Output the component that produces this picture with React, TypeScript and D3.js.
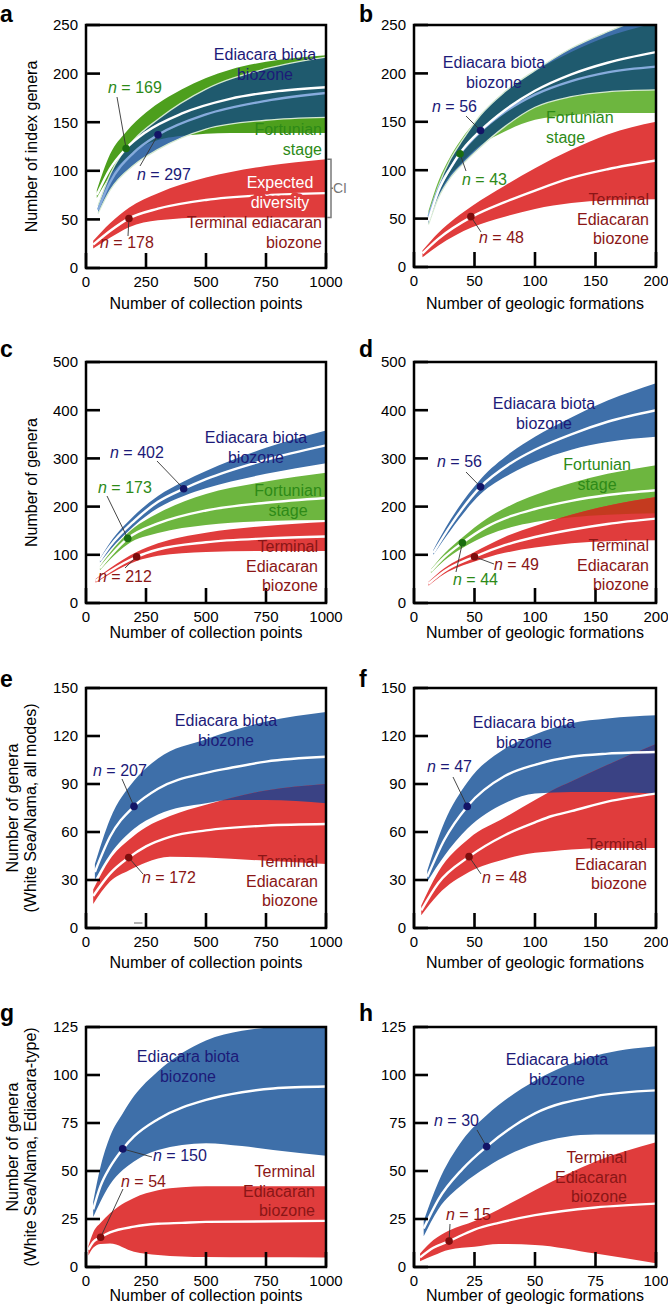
import React from "react";
import * as d3 from "d3";

// ---------------- tick values ----------------
const collectionTicks = [0, 250, 500, 750, 1000];
const formationTicks = [0, 50, 100, 150, 200];
const formationTicksH = [0, 25, 50, 75, 100];
const yTicksAB = [0, 50, 100, 150, 200, 250];
const yTicksCD = [0, 100, 200, 300, 400, 500];
const yTicksEF = [0, 30, 60, 90, 120, 150];
const yTicksGH = [0, 25, 50, 75, 100, 125];

// ---------------- panel a (index genera, collection points) ----------------
const aGreenX = [45, 100, 167, 250, 400, 600, 800, 1000];
const aGreenMid = [75, 102, 123, 140, 159, 174, 182, 186];
const aGreenHi = [80, 117, 140, 160, 184, 204, 214, 219];
const aGreenLo = [72, 95, 113, 127, 136, 139, 139, 139];
const aGreenDot = [167, 123];
const aBlueX = [50, 100, 200, 300, 500, 750, 1000];
const aBlueMid = [60, 88, 119, 137, 158, 172, 180];
const aBlueHi = [64, 96, 132, 153, 184, 205, 217];
const aBlueLo = [56, 80, 106, 122, 143, 152, 155];
const aBlueDot = [300, 137];
const aRedX = [30, 100, 179, 300, 500, 750, 1000];
const aRedMid = [24, 38, 51, 61, 70, 75, 77];
const aRedHi = [28, 46, 62, 77, 93, 105, 112];
const aRedLo = [20, 31, 42, 49, 52, 52, 52];
const aRedDot = [179, 51];
const aN = [169, 297, 178];

// ---------------- panel b (index genera, formations) ----------------
const bBlueX = [12, 20, 30, 40, 55, 75, 100, 130, 160, 200];
const bBlueMid = [48, 78, 102, 121, 141, 162, 182, 199, 211, 222];
const bBlueHi = [52, 83, 111, 131, 157, 181, 203, 226, 243, 262];
const bBlueLo = [44, 71, 92, 106, 124, 145, 165, 176, 181, 183];
const bBlueDot = [55, 141];
const bGreenX = [12, 20, 30, 38, 55, 75, 100, 130, 160, 200];
const bGreenMid = [52, 80, 102, 117, 140, 160, 178, 192, 201, 207];
const bGreenHi = [58, 88, 114, 130, 156, 180, 202, 222, 238, 252];
const bGreenLo = [50, 74, 95, 106, 126, 140, 152, 157, 159, 159];
const bGreenDot = [38, 117];
const bRedX = [7, 20, 48, 75, 100, 130, 160, 200];
const bRedMid = [14, 29, 52, 67, 79, 92, 101, 110];
const bRedHi = [17, 35, 63, 84, 102, 121, 137, 150];
const bRedLo = [10, 22, 41, 52, 60, 66, 69, 70];
const bRedDot = [47, 52];
const bN = [56, 43, 48];

// ---------------- panel c (genera, collection points) ----------------
const cBlueX = [58, 100, 200, 300, 407, 500, 750, 1000];
const cBlueMid = [88, 118, 170, 210, 237, 257, 297, 327];
const cBlueHi = [92, 125, 181, 222, 252, 274, 322, 358];
const cBlueLo = [84, 110, 160, 197, 222, 238, 268, 290];
const cBlueDot = [407, 237];
const cGreenX = [58, 100, 174, 300, 500, 750, 1000];
const cGreenMid = [72, 97, 134, 165, 192, 208, 218];
const cGreenHi = [76, 104, 145, 186, 226, 252, 270];
const cGreenLo = [68, 90, 122, 145, 162, 170, 172];
const cGreenDot = [174, 134];
const cRedX = [40, 100, 211, 300, 500, 750, 1000];
const cRedMid = [46, 66, 96, 111, 126, 134, 138];
const cRedHi = [50, 72, 106, 124, 146, 160, 168];
const cRedLo = [42, 60, 87, 98, 106, 108, 108];
const cRedDot = [211, 96];
const cN = [402, 173, 212];

// ---------------- panel d (genera, formations) ----------------
const dBlueX = [16, 30, 55, 80, 100, 130, 160, 200];
const dBlueMid = [104, 160, 241, 290, 318, 350, 376, 400];
const dBlueHi = [110, 172, 257, 312, 345, 385, 420, 456];
const dBlueLo = [100, 150, 226, 268, 292, 318, 334, 345];
const dBlueDot = [55, 241];
const dGreenX = [14, 25, 40, 60, 80, 100, 130, 160, 200];
const dGreenMid = [66, 95, 125, 158, 180, 195, 212, 224, 234];
const dGreenHi = [70, 102, 136, 175, 203, 224, 249, 268, 286];
const dGreenLo = [62, 88, 114, 140, 157, 168, 178, 183, 186];
const dGreenDot = [40, 125];
const dRedX = [12, 25, 50, 75, 100, 130, 160, 200];
const dRedMid = [40, 66, 96, 120, 137, 152, 164, 175];
const dRedHi = [44, 72, 106, 137, 160, 183, 202, 220];
const dRedLo = [36, 60, 86, 104, 115, 124, 128, 130];
const dRedDot = [50, 96];
const dN = [56, 44, 49];

// ---------------- panel e (White Sea/Nama all modes, collection points) ----------------
const eBlueX = [37, 100, 200, 300, 500, 600, 750, 1000];
const eBlueMid = [35, 57, 76, 87, 97, 100, 104, 107];
const eBlueHi = [40, 68, 92, 106, 118, 123, 129, 135];
const eBlueLo = [30, 46, 62, 71, 78, 80, 80, 78];
const eBlueDot = [200, 76];
const eRedX = [30, 100, 178, 250, 350, 500, 750, 1000];
const eRedMid = [20, 34, 44, 51, 57, 61, 64, 65];
const eRedHi = [24, 43, 55, 63, 70, 77, 86, 90];
const eRedLo = [15, 29, 36, 41, 44.5, 44, 42, 40];
const eRedDot = [178, 44];
const eN = [207, 172];

// ---------------- panel f (White Sea/Nama all modes, formations) ----------------
const fBlueX = [11, 25, 44, 75, 100, 130, 160, 200];
const fBlueMid = [32, 55, 76, 95, 102, 107, 109, 110];
const fBlueHi = [36, 66, 91, 112, 121, 128, 131, 133];
const fBlueLo = [29, 45, 62, 78, 84, 85, 85, 84];
const fBlueDot = [44, 76];
const fRedX = [6, 20, 45.5, 75, 100, 114, 130, 160, 200];
const fRedMid = [11, 28, 44.6, 58, 66, 70, 73, 79, 84];
const fRedHi = [14, 35, 56, 69, 80, 86, 91.5, 102, 115];
const fRedLo = [8, 21, 35, 43, 47, 48, 49, 50, 50];
const fRedDot = [45.5, 44.6];
const fN = [47, 48];

// ---------------- panel g (White Sea/Nama Ediacara-type, collection points) ----------------
const gBlueX = [30, 60, 100, 153, 200, 300, 500, 650, 780, 1000];
const gBlueMid = [30, 42, 52, 61.5, 68, 77, 87, 91, 93, 94];
const gBlueHi = [34, 52, 68, 80, 89, 102, 118, 123, 125, 128];
const gBlueLo = [26, 34, 43, 50.5, 55, 61, 64.5, 63, 61, 58];
const gBlueDot = [153, 61.5];
const gRedX = [10, 30, 61, 100, 200, 300, 400, 500, 1000];
const gRedMid = [9, 13, 15.5, 18, 21, 22.5, 23, 23.5, 24];
const gRedHi = [11, 18, 23, 28, 36, 40, 41.5, 42, 42];
const gRedLo = [6, 10, 12, 12.3, 8, 6.3, 5.5, 5.2, 5];
const gRedDot = [61, 15.5];
const gN = [150, 54];

// ---------------- panel h (White Sea/Nama Ediacara-type, formations) ----------------
const hBlueX = [4, 10, 20, 30, 50, 75, 100];
const hBlueMid = [20, 35, 51, 62.7, 80, 89, 92];
const hBlueHi = [24, 44, 66, 79, 97, 110, 115];
const hBlueLo = [16, 30, 43, 52, 64, 69, 69];
const hBlueDot = [30, 62.7];
const hRedX = [2.5, 8, 14.5, 25, 35, 50, 75, 100];
const hRedMid = [5, 10, 13.5, 19.5, 23, 27, 31, 33];
const hRedHi = [7, 14, 19, 24, 30, 40, 55, 65];
const hRedLo = [3, 6, 9, 10.5, 12, 11.5, 7, 2];
const hRedDot = [14.5, 13.5];
const hN = [30, 15];

// ---------------- styles ----------------
const FONT = "'Liberation Sans', Arial, Helvetica, sans-serif";
const FILL = {
  blue: "#3e6fa9",
  greenA: "#4d9f1d",
  green: "#6db63f",
  red: "#e03c3c",
  teal: "#1f5a6e",
  navy: "#3a4284",
  redGreen: "#c43a1f",
};
const TXT = { navy: "#1c1a78", green: "#2d8a17", red: "#8a1616" };
const DOT = { navy: "#131466", green: "#1b6d10", red: "#7d0d0d" };

type Series = {
  x: number[];
  lo: number[];
  mid: number[];
  hi: number[];
  fill: string;
  mean: string;
  edge?: string;
  dot: number[];
  dotColor: string;
};
type Label = { lines: string[]; dx: number; dy: number; anchor: string; color: string; halo?: string };
type NLabel = { n: number; dx: number; dy: number; lx: number; ly: number; s: number; color: string };
type Panel = {
  id: string;
  left: number;
  top: number;
  width: number;
  height: number;
  letterX: number;
  letterY: number;
  xMax: number;
  yMax: number;
  xTicks: number[];
  yTicks: number[];
  xTitle: string;
  xTitleY: number;
  yTitle: string[];
  series: Series[];
  overlaps: [number, number, string][];
  labels: Label[];
  nLabels: NLabel[];
};

const S = (
  x: number[], lo: number[], mid: number[], hi: number[], fill: string, dot: number[], dotColor: string,
  mean = "#ffffff", edge?: string
): Series => ({ x, lo, mid, hi, fill, mean, edge, dot, dotColor });

const L = (lines: string[], dx: number, dy: number, anchor: string, color: string, halo?: string): Label =>
  ({ lines, dx, dy, anchor, color, halo });

const N = (n: number, dx: number, dy: number, lx: number, ly: number, s: number, color: string): NLabel =>
  ({ n, dx, dy, lx, ly, s, color });

const EB = ["Ediacara biota", "biozone"];
const TE = ["Terminal", "Ediacaran", "biozone"];
const FS = ["Fortunian", "stage"];

const panels: Panel[] = [
  {
    id: "a", left: 86, top: 25, width: 240, height: 243, letterX: 0, letterY: 22,
    xMax: 1000, yMax: 250, xTicks: collectionTicks, yTicks: yTicksAB,
    xTitle: "Number of collection points", xTitleY: 309, yTitle: ["Number of index genera"],
    series: [
      S(aGreenX, aGreenLo, aGreenMid, aGreenHi, FILL.greenA, aGreenDot, DOT.green),
      S(aBlueX, aBlueLo, aBlueMid, aBlueHi, FILL.blue, aBlueDot, DOT.navy, "#86abdc", "#d6ead0"),
      S(aRedX, aRedLo, aRedMid, aRedHi, FILL.red, aRedDot, DOT.red),
    ],
    overlaps: [[0, 1, FILL.teal]],
    labels: [
      L(EB, 179, 35, "middle", TXT.navy),
      L(FS, 236, 110, "end", TXT.green),
      L(["Expected", "diversity"], 194, 163, "middle", "#ffffff", FILL.red),
      L(["Terminal ediacaran", "biozone"], 236, 203, "end", TXT.red),
    ],
    nLabels: [
      N(aN[0], 22, 68, 31, 72, 0, TXT.green),
      N(aN[1], 51, 155, 54, 141, 1, TXT.navy),
      N(aN[2], 14, 223, 42, 211, 2, TXT.red),
    ],
  },
  {
    id: "b", left: 414, top: 25, width: 242, height: 242, letterX: 359, letterY: 22,
    xMax: 200, yMax: 250, xTicks: formationTicks, yTicks: yTicksAB,
    xTitle: "Number of geologic formations", xTitleY: 309, yTitle: [],
    series: [
      S(bGreenX, bGreenLo, bGreenMid, bGreenHi, FILL.green, bGreenDot, DOT.green, "#86abdc"),
      S(bBlueX, bBlueLo, bBlueMid, bBlueHi, FILL.blue, bBlueDot, DOT.navy, "#ffffff", "#d6ead0"),
      S(bRedX, bRedLo, bRedMid, bRedHi, FILL.red, bRedDot, DOT.red),
    ],
    overlaps: [[0, 1, FILL.teal]],
    labels: [
      L(EB, 80, 43, "middle", TXT.navy),
      L(FS, 132, 98, "start", TXT.green),
      L(TE, 235, 180, "end", TXT.red),
    ],
    nLabels: [
      N(bN[0], 18, 87, 52, 91, 1, TXT.navy),
      N(bN[1], 48, 160, 52, 146, 0, TXT.green),
      N(bN[2], 65, 218, 67, 207, 2, TXT.red),
    ],
  },
  {
    id: "c", left: 86, top: 362, width: 240, height: 241, letterX: 0, letterY: 357,
    xMax: 1000, yMax: 500, xTicks: collectionTicks, yTicks: yTicksCD,
    xTitle: "Number of collection points", xTitleY: 638, yTitle: ["Number of genera"],
    series: [
      S(cBlueX, cBlueLo, cBlueMid, cBlueHi, FILL.blue, cBlueDot, DOT.navy),
      S(cGreenX, cGreenLo, cGreenMid, cGreenHi, FILL.green, cGreenDot, DOT.green),
      S(cRedX, cRedLo, cRedMid, cRedHi, FILL.red, cRedDot, DOT.red),
    ],
    overlaps: [],
    labels: [
      L(EB, 170, 81, "middle", TXT.navy),
      L(FS, 202, 134, "middle", TXT.green),
      L(TE, 232, 190, "end", TXT.red),
    ],
    nLabels: [
      N(cN[0], 24, 96, 71, 99, 0, TXT.navy),
      N(cN[1], 12, 131, 21, 134, 1, TXT.green),
      N(cN[2], 12, 220, 39, 206, 2, TXT.red),
    ],
  },
  {
    id: "d", left: 414, top: 362, width: 242, height: 241, letterX: 359, letterY: 357,
    xMax: 200, yMax: 500, xTicks: formationTicks, yTicks: yTicksCD,
    xTitle: "Number of geologic formations", xTitleY: 638, yTitle: [],
    series: [
      S(dBlueX, dBlueLo, dBlueMid, dBlueHi, FILL.blue, dBlueDot, DOT.navy),
      S(dGreenX, dGreenLo, dGreenMid, dGreenHi, FILL.green, dGreenDot, DOT.green),
      S(dRedX, dRedLo, dRedMid, dRedHi, FILL.red, dRedDot, DOT.red),
    ],
    overlaps: [[1, 2, FILL.redGreen]],
    labels: [
      L(EB, 130, 47, "middle", TXT.navy),
      L(FS, 183, 108, "middle", TXT.green),
      L(TE, 235, 189, "end", TXT.red),
    ],
    nLabels: [
      N(dN[0], 23, 105, 52, 110, 0, TXT.navy),
      N(dN[1], 39, 223, 42, 210, 1, TXT.green),
      N(dN[2], 80, 208, 80, 202, 2, TXT.red),
    ],
  },
  {
    id: "e", left: 86, top: 688, width: 240, height: 240, letterX: 0, letterY: 687,
    xMax: 1000, yMax: 150, xTicks: collectionTicks, yTicks: yTicksEF,
    xTitle: "Number of collection points", xTitleY: 968,
    yTitle: ["Number of genera", "(White Sea/Nama, all modes)"],
    series: [
      S(eBlueX, eBlueLo, eBlueMid, eBlueHi, FILL.blue, eBlueDot, DOT.navy),
      S(eRedX, eRedLo, eRedMid, eRedHi, FILL.red, eRedDot, DOT.red),
    ],
    overlaps: [[0, 1, FILL.navy]],
    labels: [
      L(EB, 140, 38, "middle", TXT.navy),
      L(TE, 232, 179, "end", TXT.red),
    ],
    nLabels: [
      N(eN[0], 7, 88, 36, 91, 0, TXT.navy),
      N(eN[1], 56, 195, 57, 186, 1, TXT.red),
    ],
  },
  {
    id: "f", left: 414, top: 688, width: 242, height: 240, letterX: 359, letterY: 687,
    xMax: 200, yMax: 150, xTicks: formationTicks, yTicks: yTicksEF,
    xTitle: "Number of geologic formations", xTitleY: 968, yTitle: [],
    series: [
      S(fBlueX, fBlueLo, fBlueMid, fBlueHi, FILL.blue, fBlueDot, DOT.navy),
      S(fRedX, fRedLo, fRedMid, fRedHi, FILL.red, fRedDot, DOT.red),
    ],
    overlaps: [[0, 1, FILL.navy]],
    labels: [
      L(EB, 110, 40, "middle", TXT.navy),
      L(TE, 233, 162, "end", TXT.red),
    ],
    nLabels: [
      N(fN[0], 13, 84, 39, 89, 0, TXT.navy),
      N(fN[1], 68, 195, 67, 186, 1, TXT.red),
    ],
  },
  {
    id: "g", left: 86, top: 1027, width: 240, height: 240, letterX: 0, letterY: 1021,
    xMax: 1000, yMax: 125, xTicks: collectionTicks, yTicks: yTicksGH,
    xTitle: "Number of collection points", xTitleY: 1301,
    yTitle: ["Number of genera", "(White Sea/Nama, Ediacara-type)"],
    series: [
      S(gBlueX, gBlueLo, gBlueMid, gBlueHi, FILL.blue, gBlueDot, DOT.navy),
      S(gRedX, gRedLo, gRedMid, gRedHi, FILL.red, gRedDot, DOT.red),
    ],
    overlaps: [],
    labels: [
      L(EB, 102, 35, "middle", TXT.navy),
      L(TE, 229, 150, "end", TXT.red),
    ],
    nLabels: [
      N(gN[0], 67, 134, 66, 130, 0, TXT.navy),
      N(gN[1], 35, 160, 37, 162, 1, TXT.red),
    ],
  },
  {
    id: "h", left: 414, top: 1027, width: 242, height: 240, letterX: 359, letterY: 1021,
    xMax: 100, yMax: 125, xTicks: formationTicksH, yTicks: yTicksGH,
    xTitle: "Number of geologic formations", xTitleY: 1301, yTitle: [],
    series: [
      S(hBlueX, hBlueLo, hBlueMid, hBlueHi, FILL.blue, hBlueDot, DOT.navy),
      S(hRedX, hRedLo, hRedMid, hRedHi, FILL.red, hRedDot, DOT.red),
    ],
    overlaps: [],
    labels: [
      L(EB, 143, 38, "middle", TXT.navy),
      L(TE, 213, 136, "end", TXT.red),
    ],
    nLabels: [
      N(hN[0], 20, 99, 63, 103, 0, TXT.navy),
      N(hN[1], 32, 193, 36, 197, 1, TXT.red),
    ],
  },
];

function PanelView({ p }: { p: Panel }) {
  const bottom = p.top + p.height;
  const right = p.left + p.width;
  const x = d3.scaleLinear().domain([0, p.xMax]).range([p.left, right]);
  const y = d3.scaleLinear().domain([0, p.yMax]).range([bottom, p.top]);
  const idx = (s: Series) => d3.range(s.x.length);
  const areaOf = (s: Series) =>
    d3.area<number>()
      .x((i) => x(s.x[i]))
      .y0((i) => y(s.lo[i]))
      .y1((i) => y(s.hi[i]))
      .curve(d3.curveMonotoneX)(idx(s)) || "";
  const lineOf = (s: Series, arr: number[]) =>
    d3.line<number>()
      .x((i) => x(s.x[i]))
      .y((i) => y(arr[i]))
      .curve(d3.curveMonotoneX)(idx(s)) || "";
  const clipId = `plot-${p.id}`;
  const yLabelX = p.left - 8;
  const lh = 19.5;
  const ciTop = y(aRedHi[aRedHi.length - 1]);
  const ciBot = y(aRedLo[aRedLo.length - 1]);

  return (
    <g>
      <defs>
        <clipPath id={clipId}>
          <rect x={p.left} y={p.top} width={p.width} height={p.height} />
        </clipPath>
        {p.overlaps.map(([a], k) => (
          <clipPath key={k} id={`ov-${p.id}-${k}`}>
            <path d={areaOf(p.series[a])} />
          </clipPath>
        ))}
      </defs>
      <g clipPath={`url(#${clipId})`}>
        {p.series.map((s, k) => (
          <path key={`band${k}`} d={areaOf(s)} fill={s.fill} />
        ))}
        {p.overlaps.map(([, b, c], k) => (
          <path key={`ov${k}`} d={areaOf(p.series[b])} fill={c} clipPath={`url(#ov-${p.id}-${k})`} />
        ))}
        {p.series.map((s, k) =>
          s.edge ? (
            <g key={`edge${k}`}>
              <path d={lineOf(s, s.hi)} fill="none" stroke={s.edge} strokeWidth={1.3} />
              <path d={lineOf(s, s.lo)} fill="none" stroke={s.edge} strokeWidth={1.3} />
            </g>
          ) : null
        )}
        {p.series.map((s, k) => (
          <path key={`mid${k}`} d={lineOf(s, s.mid)} fill="none" stroke={s.mean} strokeWidth={2.4} />
        ))}
      </g>
      <rect x={p.left} y={p.top} width={p.width} height={p.height} fill="none" stroke="#000" strokeWidth={2.5} />
      {p.yTicks.map((t) => (
        <g key={`yt${t}`}>
          <line x1={p.left} x2={p.left + 14} y1={y(t)} y2={y(t)} stroke="#000" strokeWidth={2.6} />
          <text x={yLabelX} y={y(t) + 5.3} textAnchor="end" fontSize={15} fontFamily={FONT} fill="#000">
            {t}
          </text>
        </g>
      ))}
      {p.xTicks.map((t) => (
        <g key={`xt${t}`}>
          <line x1={x(t)} x2={x(t)} y1={bottom} y2={bottom - 15} stroke="#000" strokeWidth={2.6} />
          <text x={x(t)} y={bottom + 19} textAnchor="middle" fontSize={15} fontFamily={FONT} fill="#000">
            {t}
          </text>
        </g>
      ))}
      <text x={(p.left + right) / 2} y={p.xTitleY} textAnchor="middle" fontSize={16} fontFamily={FONT} fill="#000">
        {p.xTitle}
      </text>
      {p.yTitle.length > 0 && (
        <g transform={`translate(${p.yTitle.length === 1 ? 37 : 18},${(p.top + bottom) / 2}) rotate(-90)`}>
          {p.yTitle.map((t, k) => (
            <text key={k} x={0} y={k * 18} textAnchor="middle" fontSize={16} fontFamily={FONT} fill="#000">
              {t}
            </text>
          ))}
        </g>
      )}
      <text x={p.letterX} y={p.letterY} fontSize={23} fontWeight="bold" fontFamily={FONT} fill="#000">
        {p.id}
      </text>
      {p.nLabels.map((nl, k) => {
        const s = p.series[nl.s];
        return (
          <line key={`ld${k}`} x1={p.left + nl.lx} y1={p.top + nl.ly} x2={x(s.dot[0])} y2={y(s.dot[1])}
            stroke="#333" strokeWidth={0.9} />
        );
      })}
      {p.series.map((s, k) => (
        <circle key={`dot${k}`} cx={x(s.dot[0])} cy={y(s.dot[1])} r={3.8} fill={s.dotColor} />
      ))}
      {p.labels.map((lb, k) => (
        <text key={`lb${k}`} textAnchor={lb.anchor as any} fontSize={16} fontFamily={FONT} fill={lb.color}
          stroke={lb.halo || "none"} strokeWidth={lb.halo ? 7 : 0} strokeLinejoin="round"
          style={{ paintOrder: "stroke" } as any}>
          {lb.lines.map((t, j) => (
            <tspan key={j} x={p.left + lb.dx} y={p.top + lb.dy + j * lh}>
              {t}
            </tspan>
          ))}
        </text>
      ))}
      {p.nLabels.map((nl, k) => (
        <text key={`nl${k}`} x={p.left + nl.dx} y={p.top + nl.dy} fontSize={16} fontFamily={FONT} fill={nl.color}>
          <tspan fontStyle="italic">n</tspan>
          {` = ${nl.n}`}
        </text>
      ))}
      {p.id === "a" && (
        <g>
          <path d={`M${right + 1},${ciTop} H${right + 5} V${ciBot} H${right + 1} M${right + 5},${(ciTop + ciBot) / 2} H${right + 7}`}
            fill="none" stroke="#7a7a7a" strokeWidth={1.5} />
          <text x={right + 7} y={(ciTop + ciBot) / 2 + 5} fontSize={14} fontFamily={FONT} fill="#777">CI</text>
        </g>
      )}
      {p.id === "e" && (
        <line x1={x(200)} x2={x(235)} y1={bottom - 5} y2={bottom - 5} stroke="#999" strokeWidth={1.5} />
      )}
    </g>
  );
}

export default function App() {
  return (
    <svg width={668} height={1313} style={{ position: "absolute", left: 0, top: 0, background: "#fff" }}>
      <rect x={0} y={0} width={668} height={1313} fill="#fff" />
      {panels.map((p) => (
        <PanelView key={p.id} p={p} />
      ))}
    </svg>
  );
}
